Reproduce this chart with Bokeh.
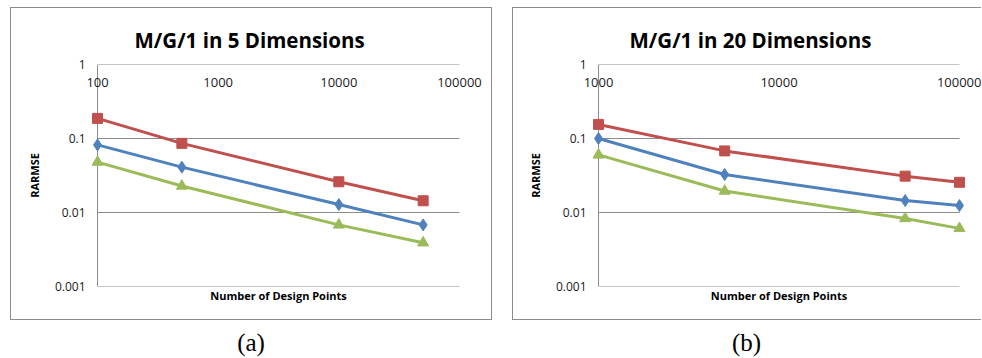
from bokeh.plotting import figure
from bokeh.models import FixedTicker, CustomJSTickFormatter, LogAxis, Div
from bokeh.layouts import row, column
from bokeh.embed import file_html
from bokeh.resources import INLINE
import math

# ---- data ----
a_title = "M/G/1 in 5 Dimensions"
a_points = [100, 500, 10000, 50000]
a_red = [0.187, 0.086, 0.026, 0.0144]
a_blue = [0.082, 0.041, 0.0128, 0.0068]
a_green = [0.048, 0.0228, 0.0068, 0.0039]
a_xticks = [100, 1000, 10000, 100000]

b_title = "M/G/1 in 20 Dimensions"
b_points = [1000, 5000, 50000, 100000]
b_red = [0.155, 0.068, 0.031, 0.0256]
b_blue = [0.100, 0.0326, 0.0145, 0.0124]
b_green = [0.060, 0.0195, 0.0083, 0.0061]
b_xticks = [1000, 10000, 100000]

y_ticks = [0.001, 0.01, 0.1, 1]
x_label = "Number of Design Points"
y_label = "RARMSE"
captions = ["(a)", "(b)"]

RED, BLUE, GREEN = "#C0504D", "#4F81BD", "#9BBB59"
GRAY = "#8c8c8c"
FONT = "Open Sans"
fmt = CustomJSTickFormatter(code="return tick.toString()")

CHART_W = 360   # px between first and last x tick
PAD = 8         # extra frame space so edge markers are not clipped


def panel(title, xs, red, blue, green, xticks, mb_left, mb_right, title_offset, border_css):
    x0, x1 = xticks[0], xticks[-1]
    decades = math.log10(x1 / x0)
    f = 10 ** (PAD * decades / CHART_W)
    p = figure(x_axis_type="log", y_axis_type="log",
               x_range=(x0 / f, x1 * f), y_range=(y_ticks[0], y_ticks[-1]),
               frame_width=CHART_W + 2 * PAD, frame_height=220,
               min_border_left=mb_left, min_border_right=mb_right,
               min_border_top=56, min_border_bottom=35,
               x_axis_location="above", title=title,
               toolbar_location=None, output_backend="svg",
               styles=border_css)
    p.outline_line_color = None
    p.title.text_font = FONT
    p.title.text_font_style = "bold"
    p.title.text_font_size = "20.5px"
    p.title.align = "left"
    p.title.offset = title_offset
    p.title.standoff = 14
    p.title.text_color = "#000000"

    # top x axis with labels just under the y=1 line
    xa = p.xaxis[0]
    xa.ticker = FixedTicker(ticks=xticks)
    xa.formatter = fmt
    xa.axis_line_color = None
    xa.major_tick_line_color = None
    xa.minor_tick_line_color = None
    xa.major_tick_out = 0
    xa.major_tick_in = 0
    xa.major_label_standoff = -22
    xa.major_label_text_font = FONT
    xa.major_label_text_font_size = "13px"
    xa.major_label_text_color = "#1a1a1a"
    # invisible spacer label: lifts the title without moving the tick labels
    xa.axis_label = " "
    xa.axis_label_text_font_size = "1px"
    xa.axis_label_standoff = 10

    # bottom axis carrying the axis title only
    bx = LogAxis(ticker=FixedTicker(ticks=[]), axis_label=x_label)
    bx.axis_line_color = None
    bx.major_tick_line_color = None
    bx.minor_tick_line_color = None
    bx.major_label_text_font_size = "0px"
    bx.axis_label_standoff = 1
    bx.axis_label_text_font = FONT
    bx.axis_label_text_font_style = "bold"
    bx.axis_label_text_font_size = "11px"
    bx.axis_label_text_color = "#000000"
    p.add_layout(bx, "below")

    ya = p.yaxis[0]
    ya.ticker = FixedTicker(ticks=y_ticks)
    ya.formatter = fmt
    ya.axis_line_color = None
    ya.major_tick_line_color = None
    ya.minor_tick_line_color = None
    ya.major_tick_out = 0
    ya.major_label_standoff = 4
    ya.major_label_text_font = FONT
    ya.major_label_text_font_size = "12px"
    ya.major_label_text_color = "#1a1a1a"
    ya.axis_label = y_label
    ya.axis_label_standoff = 10
    ya.axis_label_text_font = FONT
    ya.axis_label_text_font_style = "bold"
    ya.axis_label_text_font_size = "11px"
    ya.axis_label_text_color = "#000000"

    p.grid.visible = False
    # horizontal gridlines between first and last x tick, plus the vertical axis line
    n = len(y_ticks)
    p.segment(x0=[x0] * n, y0=y_ticks, x1=[x1] * n, y1=y_ticks, line_color=GRAY, line_width=1)
    p.segment(x0=[x0], y0=[y_ticks[0]], x1=[x0], y1=[y_ticks[-1]], line_color=GRAY, line_width=1)

    p.line(xs, red, line_color=RED, line_width=3)
    p.line(xs, blue, line_color=BLUE, line_width=3)
    p.line(xs, green, line_color=GREEN, line_width=3)
    p.scatter(xs, red, marker="square", size=10, color=RED)
    p.scatter(xs, blue, marker="diamond", size=12, color=BLUE)
    p.scatter(xs, green, marker="triangle", size=11, color=GREEN)
    return p


border_a = {"border": "1px solid " + GRAY}
border_b = {"border": "1px solid " + GRAY, "border-right": "none"}

pa = panel(a_title, a_points, a_red, a_blue, a_green, a_xticks, 78, 26, 45, border_a)
pb = panel(b_title, b_points, b_red, b_blue, b_green, b_xticks, 77, 15, 39, border_b)

cap_style = {"text-align": "center", "font-family": "Liberation Serif", "font-size": "25px",
             "color": "#000000", "width": "100%"}
ca = Div(text=captions[0], width=482, styles=cap_style, margin=(5, 0, 0, 0))
cb = Div(text=captions[1], width=469, styles=cap_style, margin=(5, 0, 0, 0))

layout = row(column(pa, ca, margin=(7, 0, 0, 10)), column(pb, cb, margin=(7, 0, 0, 20)))

open("out.html", "w").write(file_html(layout, INLINE))
